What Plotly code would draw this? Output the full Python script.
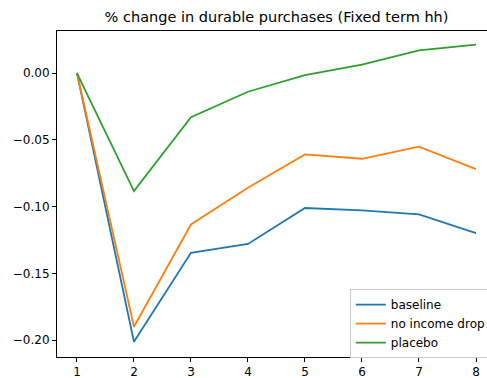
import plotly.graph_objects as go

# Horizon (periods) and responses of durable purchases
periods = [1, 2, 3, 4, 5, 6, 7, 8]
baseline = [0.0, -0.2013, -0.1346, -0.1280, -0.1011, -0.1029, -0.1059, -0.1199]
no_income_drop = [0.0, -0.1900, -0.1134, -0.0859, -0.0609, -0.0642, -0.0552, -0.0719]
placebo = [0.0, -0.0884, -0.0330, -0.0140, -0.0015, 0.0063, 0.0170, 0.0213]

y_ticks = [0.0, -0.05, -0.10, -0.15, -0.20]
x_ticks = [1, 2, 3, 4, 5, 6, 7, 8]

series = [
    ("baseline", baseline, "#1f77b4"),
    ("no income drop", no_income_drop, "#ff7f0e"),
    ("placebo", placebo, "#2ca02c"),
]

fig = go.Figure()
for name, vals, color in series:
    fig.add_trace(go.Scatter(
        x=periods, y=vals, mode="lines", name=name,
        line=dict(color=color, width=1.8),
    ))

font = "DejaVu Sans, sans-serif"
axis_common = dict(
    showgrid=False, zeroline=False, showline=True, linecolor="black",
    linewidth=1, ticks="outside", ticklen=4, tickwidth=1, tickcolor="black",
    tickfont=dict(family=font, size=12, color="black"),
)

fig.update_layout(
    width=487, height=378,
    margin=dict(l=57, r=0, t=31, b=21, autoexpand=False),
    paper_bgcolor="white", plot_bgcolor="white",
    title=dict(
        text="% change in durable purchases (Fixed term hh)",
        x=0.5105, xref="paper", xanchor="center",
        y=1 - 17 / 378, yref="container", yanchor="middle",
        font=dict(family=font, size=14.5, color="black"),
    ),
    xaxis=dict(range=[0.65, 8.193], tickvals=x_ticks, mirror=True, **axis_common),
    yaxis=dict(range=[-0.2127, 0.0315], tickvals=y_ticks, tickformat=".2f",
               **axis_common),
    legend=dict(
        x=0.681, y=0.208, xanchor="left", yanchor="top",
        bgcolor="rgba(255,255,255,0.8)", bordercolor="#cccccc", borderwidth=1,
        font=dict(family=font, size=12, color="black"),
        tracegroupgap=0, itemwidth=30,
    ),
    showlegend=True,
)

fig.write_html("out.html")
